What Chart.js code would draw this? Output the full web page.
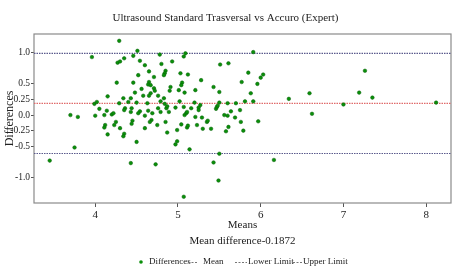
<!DOCTYPE html>
<html>
<head>
<meta charset="utf-8">
<script src="https://cdn.jsdelivr.net/npm/chart.js@4"></script>
<style>
  body { margin: 0; background: #fff; }
  #grafico { display: block; }
</style>
</head>
<body>
<canvas id="grafico" width="456" height="269"></canvas>
<script>
// Medias (eje x) y diferencias (eje y)
const medias = [
    3.45, 3.70, 3.79, 3.75, 3.96, 3.99, 4.02, 4.00, 4.05, 4.11,
    4.14, 4.20, 4.22, 4.15, 4.12, 4.11, 4.23, 4.15, 4.25, 4.26,
    4.27, 4.30, 4.35, 4.29, 4.29, 4.30, 4.34, 4.36, 4.35, 4.35,
    4.34, 4.40, 4.43, 4.44, 4.43, 4.45, 4.44, 4.43, 4.46, 4.46,
    4.48, 4.50, 4.50, 4.51, 4.52, 4.54, 4.54, 4.52, 4.56, 4.58,
    4.60, 4.60, 4.60, 4.63, 4.64, 4.65, 4.65, 4.64, 4.67, 4.67,
    4.65, 4.68, 4.66, 4.69, 4.71, 4.71, 4.72, 4.73, 4.75, 4.76,
    4.76, 4.78, 4.79, 4.79, 4.80, 4.83, 4.84, 4.85, 4.84, 4.83,
    4.86, 4.87, 4.89, 4.85, 4.87, 4.91, 4.90, 4.93, 4.97, 4.99,
    4.99, 4.97, 5.01, 5.02, 5.03, 5.05, 5.04, 5.04, 5.07, 5.09,
    5.07, 5.08, 5.08, 5.10, 5.11, 5.07, 5.11, 5.12, 5.12, 5.14,
    5.16, 5.20, 5.21, 5.21, 5.23, 5.27, 5.25, 5.25, 5.28, 5.29,
    5.30, 5.35, 5.36, 5.40, 5.43, 5.43, 5.46, 5.47, 5.48, 5.49,
    5.50, 5.50, 5.50, 5.51, 5.56, 5.58, 5.60, 5.60, 5.61, 5.61,
    5.64, 5.69, 5.70, 5.75, 5.76, 5.77, 5.79, 5.81, 5.85, 5.88,
    5.91, 5.91, 5.96, 5.97, 6.00, 6.03, 6.16, 6.34, 6.59, 6.62,
    7.00, 7.19, 7.26, 7.35, 8.12
];
const diferencias = [
    -0.73, 0.00, -0.03, -0.52, 0.93, 0.18, 0.21, -0.01, 0.10, 0.00,
    0.07, 0.01, 0.03, 0.30, -0.16, -0.20, -0.16, -0.31, -0.11, 0.52,
    0.84, 0.86, 0.91, 1.19, 0.19, -0.21, 0.27, 0.11, 0.08, -0.30,
    -0.34, 0.21, 0.27, 0.11, 0.05, -0.09, -0.14, -0.77, 0.95, 0.52,
    0.36, 0.20, -0.43, 1.03, 0.64, 0.87, 0.06, 0.03, 0.42, 0.31,
    0.80, -0.01, -0.21, 0.19, 0.07, 0.70, 0.53, 0.49, 0.48, 0.35,
    0.31, -0.08, -0.11, 0.03, 0.61, 0.43, 0.39, -0.79, -0.16, 0.31,
    0.11, 0.97, 0.22, 0.05, 0.82, 0.27, 0.18, 0.71, 0.67, 0.64,
    0.11, 0.14, 0.05, -0.11, -0.28, 0.45, 0.39, 0.86, 0.12, -0.24,
    -0.42, -0.47, 0.40, 0.22, 0.67, 0.52, 0.48, -0.15, 0.94, 0.99,
    0.13, 0.36, 0.00, 0.03, 0.05, -1.31, -0.20, -0.17, 0.65, -0.55,
    0.11, 0.20, 0.40, -0.03, -0.16, 0.16, 0.12, 0.08, 0.56, -0.04,
    -0.22, -0.11, -0.09, -0.22, 0.45, -0.76, 0.10, 0.13, 0.15, -1.05,
    0.37, 0.20, -0.62, 0.81, 0.00, -0.26, 0.19, -0.01, 0.83, -0.19,
    0.06, -0.04, 0.19, 0.08, -0.11, 0.53, -0.25, 0.22, 0.68, 0.35,
    1.01, 0.22, 0.50, -0.10, 0.60, 0.65, -0.72, 0.26, 0.35, 0.02,
    0.17, 0.36, 0.71, 0.28, 0.20
];

const diferenciaMedia = 0.1872;
const limiteSuperior = 0.990;
const limiteInferior = -0.616;

const ticksX = [4, 5, 6, 7, 8];
const ticksY = [-1.0, -0.5, -0.25, 0.0, 0.25, 0.5, 1.0];
const etiquetasY = ['-1.0', '-0.5', '-0.25', '0.0', '0.25', '0.5', '1.0'];

const rangoX = [3.26, 8.30];
const rangoY = [-1.41, 1.30];

const fuente = '"Liberation Serif", "Times New Roman", serif';
const colorPunto = '#0a8f0a';
const colorLimite = '#5a5a8c';
const colorMedia = '#e06a6a';

const puntos = medias.map((m, i) => ({ x: m, y: diferencias[i] }));

function lineaHorizontal(valor) {
    return [{ x: rangoX[0], y: valor }, { x: rangoX[1], y: valor }];
}

// Marco del área del gráfico (arriba y derecha incluidos)
const marco = {
    id: 'marco',
    beforeDatasetsDraw(chart) {
        const a = chart.chartArea;
        const ctx = chart.ctx;
        ctx.save();
        ctx.strokeStyle = '#8a8a8a';
        ctx.lineWidth = 1.2;
        ctx.strokeRect(a.left, a.top, a.right - a.left, a.bottom - a.top);
        ctx.restore();
    }
};

// Leyenda dibujada a mano, como en el original
const leyenda = {
    id: 'leyenda',
    afterDraw(chart) {
        const ctx = chart.ctx;
        const y = 262;
        ctx.save();
        ctx.font = '9px ' + fuente;
        ctx.fillStyle = '#222';
        ctx.textBaseline = 'middle';

        ctx.beginPath();
        ctx.fillStyle = colorPunto;
        ctx.arc(141, y, 1.8, 0, Math.PI * 2);
        ctx.fill();

        ctx.fillStyle = '#222';
        ctx.fillText('Differences', 149, y);
        ctx.fillText('Mean', 203, y);
        ctx.fillText('Lower Limit', 248, y);
        ctx.fillText('Upper Limit', 303, y);

        ctx.setLineDash([2, 1.5]);
        ctx.lineWidth = 1;
        ctx.strokeStyle = '#777';
        [[188, 198], [235, 247], [293, 302]].forEach(([a, b]) => {
            ctx.beginPath();
            ctx.moveTo(a, y + 0.5);
            ctx.lineTo(b, y + 0.5);
            ctx.stroke();
        });
        ctx.restore();
    }
};

new Chart(document.getElementById('grafico'), {
    type: 'scatter',
    data: {
        datasets: [
            {
                label: 'Differences',
                data: puntos,
                pointRadius: 1.8,
                pointBackgroundColor: colorPunto,
                pointBorderColor: '#066006',
                pointBorderWidth: 0.5,
                order: 0
            },
            {
                label: 'Mean',
                type: 'line',
                data: lineaHorizontal(diferenciaMedia),
                borderColor: colorMedia,
                borderWidth: 1.2,
                borderDash: [1.5, 1],
                pointRadius: 0,
                order: 1
            },
            {
                label: 'Lower Limit',
                type: 'line',
                data: lineaHorizontal(limiteInferior),
                borderColor: colorLimite,
                borderWidth: 1.2,
                borderDash: [1.5, 1],
                pointRadius: 0,
                order: 1
            },
            {
                label: 'Upper Limit',
                type: 'line',
                data: lineaHorizontal(limiteSuperior),
                borderColor: colorLimite,
                borderWidth: 1.2,
                borderDash: [1.5, 1],
                pointRadius: 0,
                order: 1
            }
        ]
    },
    options: {
        responsive: false,
        animation: false,
        devicePixelRatio: 1,
        layout: { padding: { top: 0, right: 5, bottom: 20, left: 0 } },
        plugins: {
            legend: { display: false },
            tooltip: { enabled: false },
            title: {
                display: true,
                text: 'Ultrasound Standard Trasversal vs Accuro (Expert)',
                color: '#222',
                font: { family: fuente, size: 11, weight: 'normal', lineHeight: 1.2 },
                padding: { top: 12, bottom: 8.8 }
            }
        },
        scales: {
            x: {
                type: 'linear',
                min: rangoX[0],
                max: rangoX[1],
                afterBuildTicks: s => { s.ticks = ticksX.map(v => ({ value: v })); },
                afterFit: s => { s.height = 46; },
                grid: { drawOnChartArea: false, drawTicks: true, tickLength: 4, color: '#555' },
                border: { display: false },
                ticks: {
                    color: '#222',
                    padding: 2,
                    maxRotation: 0,
                    font: { family: fuente, size: 11 }
                },
                title: {
                    display: true,
                    text: ['Means', 'Mean difference-0.1872'],
                    color: '#222',
                    font: { family: fuente, size: 11, lineHeight: 1.42 },
                    padding: { top: 0, bottom: 0.5 }
                }
            },
            y: {
                type: 'linear',
                min: rangoY[0],
                max: rangoY[1],
                afterBuildTicks: s => { s.ticks = ticksY.map(v => ({ value: v })); },
                afterFit: s => { s.width = 34; },
                grid: { drawOnChartArea: false, drawTicks: true, tickLength: 3, color: '#555' },
                border: { display: false },
                ticks: {
                    color: '#222',
                    padding: 1,
                    font: { family: fuente, size: 9.5 },
                    callback: v => {
                        const i = ticksY.indexOf(v);
                        return i >= 0 ? etiquetasY[i] : '';
                    }
                },
                title: {
                    display: true,
                    text: 'Differences',
                    color: '#222',
                    font: { family: fuente, size: 12, lineHeight: 1.2 },
                    padding: { top: 3, bottom: 0 }
                }
            }
        }
    },
    plugins: [marco, leyenda]
});
</script>
</body>
</html>
